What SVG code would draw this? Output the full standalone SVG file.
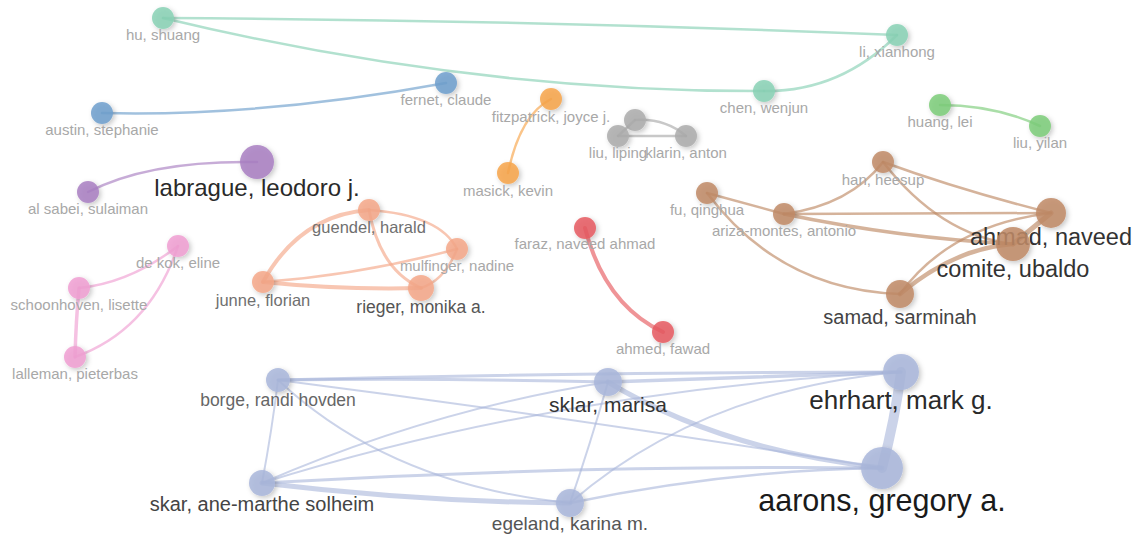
<svg xmlns="http://www.w3.org/2000/svg" width="1135" height="541" viewBox="0 0 1135 541">
<defs>
<filter id="sh" x="-50%" y="-50%" width="200%" height="200%">
<feDropShadow dx="2" dy="2" stdDeviation="2.5" flood-color="#000" flood-opacity="0.25"/>
</filter>
</defs>
<style>
.e{fill:none;stroke-linecap:round;stroke-opacity:0.65}
.n{filter:url(#sh);fill-opacity:0.85}
text{font-family:"Liberation Sans",Arial,sans-serif;text-anchor:middle}
.s{font-size:15px;fill:#a8a8a8}
.m{font-size:16.5px;fill:#707070}
.teal{stroke:#88d1b5}.tealf{fill:#88d1b5}
.blue{stroke:#6f9fcd}.bluef{fill:#6f9fcd}
.pur{stroke:#a97fc2}.purf{fill:#a97fc2}
.ora{stroke:#f7a54a}.oraf{fill:#f7a54a}
.gry{stroke:#ababab}.gryf{fill:#ababab}
.grn{stroke:#7ccc79}.grnf{fill:#7ccc79}
.pnk{stroke:#f09fd2}.pnkf{fill:#f09fd2}
.sal{stroke:#f5a788}.salf{fill:#f5a788}
.red{stroke:#e65a60}.redf{fill:#e65a60}
.brn{stroke:#bf8a66}.brnf{fill:#bf8a66}
.per{stroke:#a9b6da;stroke-opacity:0.6}.perf{fill:#a9b6da}
</style>
<rect width="1135" height="541" fill="#fff"/>
<g id="connectors">
<path class="e teal" stroke-width="2.5" d="M163,18 Q530,20 897,35"/>
<path class="e teal" stroke-width="2.5" d="M163,18 Q470,92 764,91"/>
<path class="e teal" stroke-width="2.5" d="M764,91 Q840,92 897,35"/>
<path class="e blue" stroke-width="2.5" d="M102,113 Q260,117 446,83"/>
<path class="e pur" stroke-width="2.5" d="M88,192 Q150,160 257,162"/>
<path class="e ora" stroke-width="2.5" d="M551,99 Q520,115 508,173"/>
<path class="e gry" stroke-width="2.5" d="M618,136 L686,136"/>
<path class="e gry" stroke-width="2.5" d="M618,136 L635,120"/>
<path class="e gry" stroke-width="2.5" d="M635,120 Q665,118 686,136"/>
<path class="e grn" stroke-width="2.5" d="M940,105 Q995,105 1040,126"/>
<path class="e pnk" stroke-width="2.5" d="M79,288 Q130,283 178,246"/>
<path class="e pnk" stroke-width="2.5" d="M178,246 Q150,330 75,357"/>
<path class="e pnk" stroke-width="3.5" d="M79,288 Q76,320 75,357"/>
<path class="e sal" stroke-width="4" d="M263,282 Q300,215 369,210"/>
<path class="e sal" stroke-width="4" d="M263,282 Q340,290 421,288"/>
<path class="e sal" stroke-width="2.5" d="M263,282 Q360,275 457,249"/>
<path class="e sal" stroke-width="3" d="M369,210 Q380,270 421,288"/>
<path class="e sal" stroke-width="2.5" d="M369,210 Q440,215 457,249"/>
<path class="e sal" stroke-width="2.5" d="M421,288 Q445,280 457,249"/>
<path class="e red" stroke-width="4" d="M585,228 Q605,305 663,332"/>
<path class="e brn" stroke-width="2.5" d="M707,193 L784,214"/>
<path class="e brn" stroke-width="2.5" d="M707,193 Q780,290 900,294"/>
<path class="e brn" stroke-width="2.5" d="M784,214 Q850,205 883,162"/>
<path class="e brn" stroke-width="2.5" d="M784,214 L1051,213"/>
<path class="e brn" stroke-width="3.5" d="M784,214 Q900,238 1013,244"/>
<path class="e brn" stroke-width="2.5" d="M883,162 Q960,190 1051,213"/>
<path class="e brn" stroke-width="2.5" d="M883,162 Q940,235 1013,244"/>
<path class="e brn" stroke-width="2.5" d="M900,294 Q950,225 1051,213"/>
<path class="e brn" stroke-width="4.5" d="M900,294 Q955,248 1013,244"/>
<path class="e brn" stroke-width="5" d="M1013,244 L1051,213"/>
<path class="e per" stroke-width="3" d="M278,380 Q440,378 608,382"/>
<path class="e per" stroke-width="3" d="M278,380 Q590,372 901,372"/>
<path class="e per" stroke-width="2" d="M278,380 Q272,430 262,483"/>
<path class="e per" stroke-width="2" d="M278,380 Q390,485 570,503"/>
<path class="e per" stroke-width="2" d="M278,380 Q590,420 882,468"/>
<path class="e per" stroke-width="3.5" d="M608,382 L901,372"/>
<path class="e per" stroke-width="5" d="M608,382 Q720,450 882,468"/>
<path class="e per" stroke-width="2" d="M608,382 Q430,410 262,483"/>
<path class="e per" stroke-width="2" d="M608,382 Q590,445 570,503"/>
<path class="e per" stroke-width="2" d="M262,483 Q560,390 901,372"/>
<path class="e per" stroke-width="3" d="M262,483 Q570,465 882,468"/>
<path class="e per" stroke-width="5" d="M262,483 Q420,502 570,503"/>
<path class="e per" stroke-width="2" d="M570,503 Q700,390 901,372"/>
<path class="e per" stroke-width="2.5" d="M570,503 Q730,470 882,468"/>
<path class="e per" stroke-width="10" d="M901,372 Q895,420 882,468"/>
</g>
<g id="hu-shuang"><circle class="n tealf" cx="163" cy="18" r="11"/><text class="s" x="163" y="40">hu, shuang</text></g>
<g id="li-xianhong"><circle class="n tealf" cx="897" cy="35" r="11"/><text class="s" x="897" y="57">li, xianhong</text></g>
<g id="chen-wenjun"><circle class="n tealf" cx="764" cy="91" r="11"/><text class="s" x="764" y="113">chen, wenjun</text></g>
<g id="austin-stephanie"><circle class="n bluef" cx="102" cy="113" r="11"/><text class="s" x="102" y="135">austin, stephanie</text></g>
<g id="fernet-claude"><circle class="n bluef" cx="446" cy="83" r="11"/><text class="s" x="446" y="105">fernet, claude</text></g>
<g id="fitzpatrick-joyce"><circle class="n oraf" cx="551" cy="99" r="11"/><text class="s" x="551" y="122">fitzpatrick, joyce j.</text></g>
<g id="masick-kevin"><circle class="n oraf" cx="508" cy="173" r="11"/><text class="s" x="508" y="196">masick, kevin</text></g>
<g id="gray-node"><circle class="n gryf" cx="635" cy="120" r="11"/></g>
<g id="liu-liping"><circle class="n gryf" cx="618" cy="136" r="11"/><text class="s" x="618" y="158">liu, liping</text></g>
<g id="klarin-anton"><circle class="n gryf" cx="686" cy="136" r="11"/><text class="s" x="686" y="158">klarin, anton</text></g>
<g id="huang-lei"><circle class="n grnf" cx="940" cy="105" r="11"/><text class="s" x="940" y="127">huang, lei</text></g>
<g id="liu-yilan"><circle class="n grnf" cx="1040" cy="126" r="11"/><text class="s" x="1040" y="148">liu, yilan</text></g>
<g id="labrague"><circle class="n purf" cx="257" cy="162" r="17"/><text x="257" y="196" font-size="24" fill="#2a2a2a">labrague, leodoro j.</text></g>
<g id="al-sabei"><circle class="n purf" cx="88" cy="192" r="11"/><text class="s" x="88" y="214">al sabei, sulaiman</text></g>
<g id="de-kok"><circle class="n pnkf" cx="178" cy="246" r="11"/><text class="s" x="178" y="268">de kok, eline</text></g>
<g id="schoonhoven"><circle class="n pnkf" cx="79" cy="288" r="11"/><text class="s" x="79" y="310">schoonhoven, lisette</text></g>
<g id="lalleman"><circle class="n pnkf" cx="75" cy="357" r="11"/><text class="s" x="75" y="379">lalleman, pieterbas</text></g>
<g id="guendel"><circle class="n salf" cx="369" cy="210" r="11"/><text class="m" x="369" y="233">guendel, harald</text></g>
<g id="mulfinger"><circle class="n salf" cx="457" cy="249" r="11"/><text class="s" x="457" y="271">mulfinger, nadine</text></g>
<g id="junne"><circle class="n salf" cx="263" cy="282" r="11"/><text class="m" x="263" y="306">junne, florian</text></g>
<g id="rieger"><circle class="n salf" cx="421" cy="288" r="13"/><text x="421" y="313" font-size="17.5" fill="#555">rieger, monika a.</text></g>
<g id="faraz"><circle class="n redf" cx="585" cy="228" r="11"/><text class="s" x="585" y="249">faraz, naveed ahmad</text></g>
<g id="ahmed-fawad"><circle class="n redf" cx="663" cy="332" r="11"/><text class="s" x="663" y="354">ahmed, fawad</text></g>
<g id="fu-qinghua"><circle class="n brnf" cx="707" cy="193" r="11"/><text class="s" x="707" y="215">fu, qinghua</text></g>
<g id="han-heesup"><circle class="n brnf" cx="883" cy="162" r="11"/><text class="s" x="883" y="185">han, heesup</text></g>
<g id="ariza-montes"><circle class="n brnf" cx="784" cy="214" r="11"/><text class="s" x="784" y="236">ariza-montes, antonio</text></g>
<g id="ahmad-naveed"><circle class="n brnf" cx="1051" cy="213" r="15"/><text x="1051" y="245" font-size="23.5" fill="#333">ahmad, naveed</text></g>
<g id="comite-ubaldo"><circle class="n brnf" cx="1013" cy="244" r="17"/><text x="1013" y="277" font-size="23.5" fill="#333">comite, ubaldo</text></g>
<g id="samad-sarminah"><circle class="n brnf" cx="900" cy="294" r="14"/><text x="900" y="324" font-size="20" fill="#444">samad, sarminah</text></g>
<g id="borge"><circle class="n perf" cx="278" cy="380" r="12"/><text x="278" y="406" font-size="17.5" fill="#666">borge, randi hovden</text></g>
<g id="sklar-marisa"><circle class="n perf" cx="608" cy="382" r="14"/><text x="608" y="412" font-size="21" fill="#333">sklar, marisa</text></g>
<g id="ehrhart"><circle class="n perf" cx="901" cy="372" r="18"/><text x="901" y="409" font-size="26" fill="#2a2a2a">ehrhart, mark g.</text></g>
<g id="aarons"><circle class="n perf" cx="882" cy="468" r="21"/><text x="882" y="511" font-size="30.5" fill="#1a1a1a">aarons, gregory a.</text></g>
<g id="skar"><circle class="n perf" cx="262" cy="483" r="13"/><text x="262" y="511" font-size="20" fill="#444">skar, ane-marthe solheim</text></g>
<g id="egeland"><circle class="n perf" cx="570" cy="503" r="14"/><text x="570" y="530" font-size="19" fill="#555">egeland, karina m.</text></g>
</svg>
